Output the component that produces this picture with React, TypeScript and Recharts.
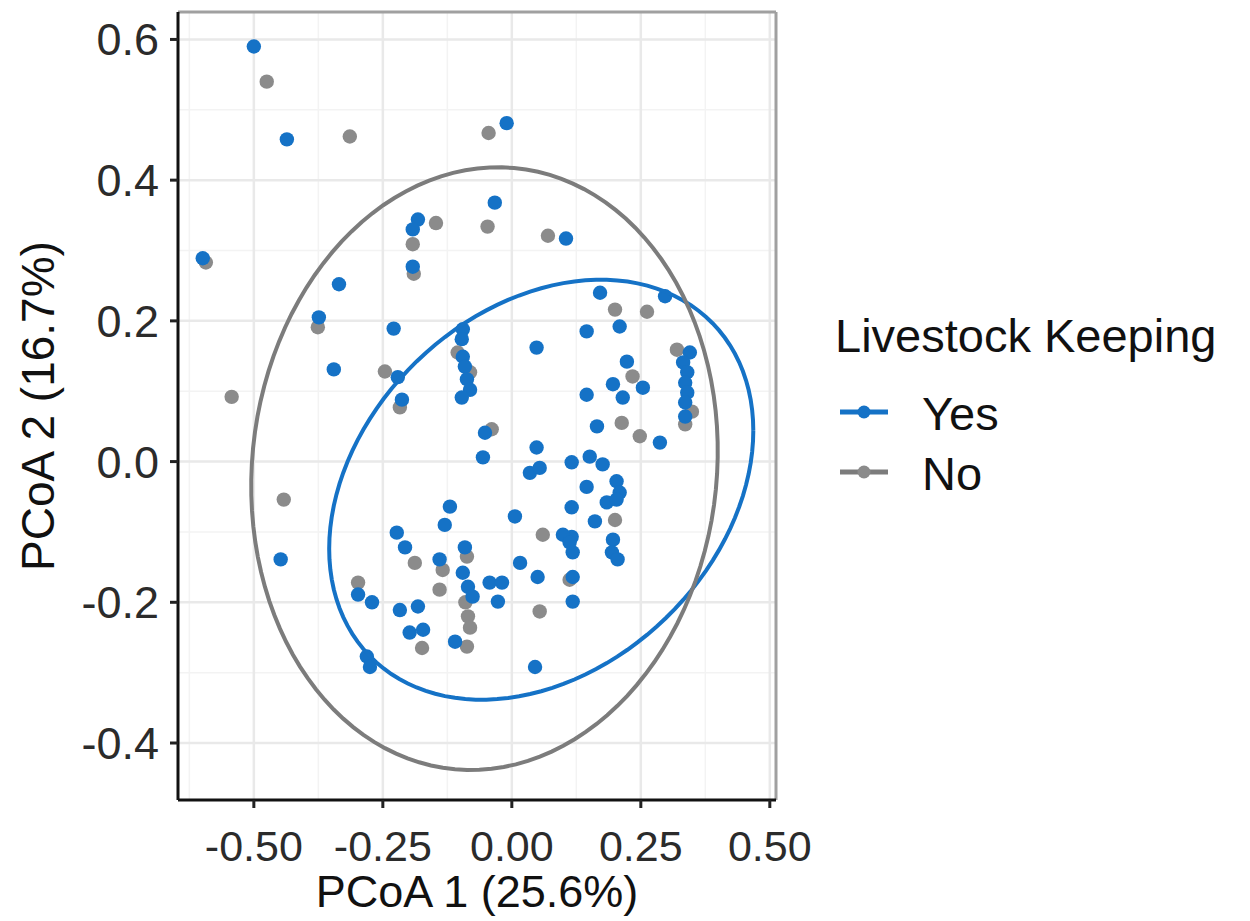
import React from 'react';
import {
  ScatterChart,
  Scatter,
  XAxis,
  YAxis,
  CartesianGrid,
  Legend,
  ReferenceLine,
} from 'recharts';

const BLUE = '#1572c6';
const GREY = '#8b8b8b';
const GREY_LINE = '#7c7c7c';
const FONT = '"Liberation Sans", Arial, Helvetica, sans-serif';

const X_DOMAIN = [-0.647, 0.512];
const Y_DOMAIN = [-0.481, 0.639];
const X_TICKS = [-0.5, -0.25, 0, 0.25, 0.5];
const Y_TICKS = [-0.4, -0.2, 0, 0.2, 0.4, 0.6];
const X_MINOR = [-0.625, -0.375, -0.125, 0.125, 0.375];
const Y_MINOR = [-0.3, -0.1, 0.1, 0.3, 0.5];

// Livestock keeping = Yes
const yesPoints = [
  [-0.5, 0.59], [-0.436, 0.458], [-0.01, 0.481], [-0.033, 0.368], [0.105, 0.317],
  [-0.599, 0.289], [-0.448, -0.139], [-0.182, 0.344], [-0.192, 0.33], [-0.192, 0.277],
  [-0.335, 0.252], [-0.374, 0.205], [-0.229, 0.189], [-0.345, 0.131], [-0.221, 0.12],
  [-0.213, 0.088], [-0.095, 0.188], [-0.097, 0.174], [-0.095, 0.149], [-0.091, 0.135],
  [-0.087, 0.117], [-0.081, 0.102], [-0.097, 0.091], [0.048, 0.162], [0.145, 0.185],
  [0.145, 0.095], [-0.052, 0.041], [0.171, 0.24], [0.297, 0.235], [0.209, 0.192],
  [0.345, 0.155], [0.332, 0.141], [0.34, 0.127], [0.336, 0.112], [0.34, 0.098],
  [0.336, 0.084], [0.336, 0.064], [0.223, 0.142], [0.196, 0.11], [0.254, 0.105],
  [0.215, 0.091], [0.165, 0.05], [0.287, 0.027], [0.151, 0.007], [0.176, -0.004],
  [0.116, -0.001], [0.145, -0.036], [0.203, -0.028], [0.209, -0.044], [0.184, -0.058],
  [0.203, -0.054], [0.116, -0.065], [0.161, -0.085], [0.196, -0.111], [0.194, -0.129],
  [0.205, -0.139], [0.116, -0.107], [0.118, -0.129], [0.118, -0.164], [0.118, -0.199],
  [-0.056, 0.006], [0.048, 0.02], [0.035, -0.016], [0.054, -0.009], [-0.12, -0.064],
  [-0.13, -0.09], [0.006, -0.078], [0.099, -0.104], [0.112, -0.115], [-0.14, -0.139],
  [-0.091, -0.122], [-0.095, -0.158], [-0.085, -0.178], [-0.076, -0.192], [-0.043, -0.172],
  [-0.019, -0.172], [-0.027, -0.199], [0.016, -0.144], [0.05, -0.164], [-0.11, -0.256],
  [0.045, -0.292], [-0.223, -0.101], [-0.207, -0.122], [-0.298, -0.189], [-0.271, -0.2],
  [-0.217, -0.211], [-0.182, -0.206], [-0.198, -0.243], [-0.172, -0.239], [-0.281, -0.277],
  [-0.275, -0.292],
];

// Livestock keeping = No
const noPoints = [
  [-0.475, 0.54], [-0.314, 0.462], [-0.045, 0.467], [-0.047, 0.334], [0.07, 0.321],
  [-0.593, 0.283], [-0.543, 0.092], [-0.442, -0.054], [-0.192, 0.309], [-0.147, 0.339],
  [-0.19, 0.267], [-0.376, 0.191], [-0.246, 0.128], [-0.217, 0.077], [-0.105, 0.155],
  [-0.081, 0.127], [-0.039, 0.046], [0.2, 0.216], [0.262, 0.213], [0.32, 0.159],
  [0.349, 0.071], [0.336, 0.053], [0.234, 0.121], [0.213, 0.055], [0.248, 0.036],
  [0.2, -0.083], [0.112, -0.168], [0.06, -0.104], [-0.134, -0.154], [-0.14, -0.182],
  [-0.087, -0.135], [0.054, -0.213], [-0.085, -0.22], [-0.081, -0.236], [-0.087, -0.263],
  [-0.188, -0.144], [-0.298, -0.172], [-0.174, -0.265], [-0.09, -0.2],
];

// stat_ellipse outlines: [cx, cy, dx at 0deg, dy at 0deg, dx at 90deg, dy at 90deg]
const yesEllipse = [0.057, -0.04, 0.411, 0.084, 0, 0.2864];
const noEllipse = [-0.053, -0.01, 0.452, 0.0155, 0.01, 0.428];

const toRows = (pts: number[][]) => pts.map(([x, y]) => ({ x, y }));

const ellipseRows = (e: number[]) => {
  const [cx, cy, p1, q1, p2, q2] = e;
  const rows = [];
  for (let i = 0; i <= 120; i++) {
    const t = (i / 120) * Math.PI * 2;
    rows.push({ x: cx + p1 * Math.cos(t) + p2 * Math.sin(t), y: cy + q1 * Math.cos(t) + q2 * Math.sin(t) });
  }
  return rows;
};

const dot = (color: string) => (props: any) => (
  <circle cx={props.cx} cy={props.cy} r={7.2} fill={color} />
);
const noDot = () => <g />;

const LegendBox = () => (
  <svg width={420} height={230} style={{ fontFamily: FONT }}>
    <text x={5} y={62} fontSize={47} fill="#111">Livestock Keeping</text>
    <line x1={10} x2={58} y1={122} y2={122} stroke={BLUE} strokeWidth={5} />
    <circle cx={34} cy={122} r={6.5} fill={BLUE} />
    <text x={92} y={140} fontSize={47} fill="#111">Yes</text>
    <line x1={10} x2={58} y1={182} y2={182} stroke={GREY_LINE} strokeWidth={5} />
    <circle cx={34} cy={182} r={6.5} fill={GREY} />
    <text x={92} y={200} fontSize={47} fill="#111">No</text>
  </svg>
);

export default function App() {
  return (
    <div style={{ position: 'absolute', left: 0, top: 0, width: 1250, height: 921, background: '#fff', fontFamily: FONT }}>
      <ScatterChart width={1250} height={921} margin={{ top: 12, right: 474, bottom: 0, left: 0 }}>
        <CartesianGrid verticalValues={X_MINOR} horizontalValues={Y_MINOR} stroke="#f3f3f3" strokeWidth={1.5} />
        <CartesianGrid verticalValues={X_TICKS} horizontalValues={Y_TICKS} stroke="#e9e9e9" strokeWidth={2.5} />
        <XAxis
          type="number"
          dataKey="x"
          domain={X_DOMAIN}
          ticks={X_TICKS}
          allowDataOverflow
          height={121}
          tickSize={8}
          tickMargin={22}
          tickFormatter={(v: number) => v.toFixed(2)}
          tick={{ fontSize: 43, fill: '#2b2b2b' }}
          axisLine={{ stroke: '#111', strokeWidth: 3 }}
          tickLine={{ stroke: '#222', strokeWidth: 3 }}
          label={{ value: 'PCoA 1 (25.6%)', position: 'insideBottom', offset: 14, style: { fontSize: 45, fill: '#111' } }}
        />
        <YAxis
          type="number"
          dataKey="y"
          domain={Y_DOMAIN}
          ticks={Y_TICKS}
          allowDataOverflow
          width={178}
          tickSize={8}
          tickMargin={11}
          tickFormatter={(v: number) => v.toFixed(1)}
          tick={{ fontSize: 45, fill: '#2b2b2b' }}
          axisLine={{ stroke: '#111', strokeWidth: 3 }}
          tickLine={{ stroke: '#222', strokeWidth: 3 }}
          label={{ value: 'PCoA 2 (16.7%)', angle: -90, position: 'insideLeft', offset: 38, style: { fontSize: 46, fill: '#111', textAnchor: 'middle' } }}
        />
        <ReferenceLine y={Y_DOMAIN[1]} stroke="#a0a0a0" strokeWidth={3} />
        <ReferenceLine x={X_DOMAIN[1]} stroke="#a0a0a0" strokeWidth={3} />
        <Scatter name="No" data={toRows(noPoints)} shape={dot(GREY)} isAnimationActive={false} />
        <Scatter name="Yes" data={toRows(yesPoints)} shape={dot(BLUE)} isAnimationActive={false} />
        <Scatter data={ellipseRows(yesEllipse)} line={{ stroke: BLUE, strokeWidth: 4 }} shape={noDot} legendType="none" isAnimationActive={false} />
        <Scatter data={ellipseRows(noEllipse)} line={{ stroke: GREY_LINE, strokeWidth: 4 }} shape={noDot} legendType="none" isAnimationActive={false} />
        <Legend
          layout="vertical"
          align="center"
          verticalAlign="middle"
          content={() => <LegendBox />}
          wrapperStyle={{ left: 830, top: 290, width: 420, height: 230 }}
        />
      </ScatterChart>
    </div>
  );
}
